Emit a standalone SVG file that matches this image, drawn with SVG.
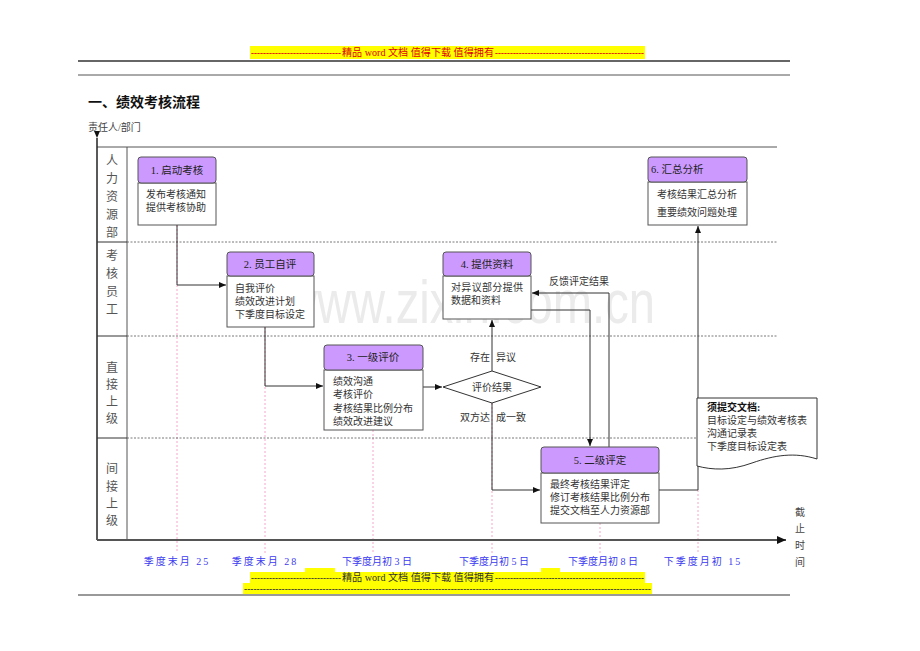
<svg xmlns="http://www.w3.org/2000/svg" width="920" height="651" viewBox="0 0 920 651">
<style>
text{font-family:"Liberation Serif","Noto Sans CJK SC",serif;}
.hd{fill:#cc99ff;stroke:#555;stroke-width:1;}
.bd{fill:#fff;stroke:#555;stroke-width:1;}
.ht{font-size:10.5px;fill:#222;text-anchor:middle;}
.bt{font-size:10px;fill:#333;}
.ln{font-size:12px;fill:#555;text-anchor:middle;}
.tm{font-size:10px;fill:#3b3bf0;text-anchor:middle;}
.con{fill:none;stroke:#333;stroke-width:1;}
.pk{stroke:#f4a6c8;stroke-width:1;stroke-dasharray:2,2;}
.dl{stroke:#555;stroke-width:0.8;stroke-dasharray:2,1.5;}
.wm{font-size:10px;}
</style>
<defs>
<marker id="ah" markerWidth="8" markerHeight="8" refX="7" refY="4" orient="auto" markerUnits="userSpaceOnUse"><path d="M0,1 L7,4 L0,7 Z" fill="#111"/></marker>
<marker id="ah2" markerWidth="10" markerHeight="10" refX="9" refY="5" orient="auto" markerUnits="userSpaceOnUse"><path d="M0,1 L9,5 L0,9 Z" fill="#111"/></marker>
</defs>
<rect width="920" height="651" fill="#fff"/>
<!-- header watermark -->
<g id="header">
<rect x="250" y="46" width="395" height="13" fill="#ffff00"/>
<text x="251" y="56" class="wm" fill="#d00" textLength="90" lengthAdjust="spacingAndGlyphs">------------------------------</text>
<text x="342" y="56" class="wm" fill="#d00" textLength="152" lengthAdjust="spacingAndGlyphs">精品 word 文档  值得下载  值得拥有</text>
<text x="495" y="56" class="wm" fill="#d00" textLength="149" lengthAdjust="spacingAndGlyphs">--------------------------------------------------</text>
<line x1="78" y1="61" x2="790" y2="61" stroke="#666" stroke-width="2"/>
<line x1="78" y1="75" x2="790" y2="75" stroke="#555" stroke-width="1"/>
</g>
<text x="88" y="107" font-size="14" fill="#111" font-weight="bold">一、绩效考核流程</text>
<text x="88" y="131" font-size="10" fill="#444">责任人/部门</text>
<!-- background watermark -->
<text x="283" y="323" font-size="62" fill="#ebebeb" textLength="372" lengthAdjust="spacingAndGlyphs" style="font-family:'Liberation Sans',sans-serif">www.zixin.com.cn</text>
<!-- pink time guides -->
<g id="guides">
<line class="pk" x1="177" y1="225" x2="177" y2="553"/>
<line class="pk" x1="265" y1="327" x2="265" y2="553"/>
<line class="pk" x1="373" y1="430" x2="373" y2="553"/>
<line class="pk" x1="492" y1="403" x2="492" y2="553"/>
<line class="pk" x1="600" y1="523" x2="600" y2="553"/>
<line class="pk" x1="698" y1="490" x2="698" y2="553"/>
</g>
<!-- swimlanes -->
<g id="lanes">
<line x1="97" y1="147" x2="777" y2="147" stroke="#555" stroke-width="1"/>
<line x1="97" y1="138" x2="97" y2="540" stroke="#222" stroke-width="1.5" marker-start="url(#ah)"/>
<line x1="127" y1="147" x2="127" y2="540" stroke="#555" stroke-width="1"/>
<line x1="97" y1="242" x2="127" y2="242" stroke="#333"/>
<line x1="97" y1="336" x2="127" y2="336" stroke="#333"/>
<line x1="97" y1="438" x2="127" y2="438" stroke="#333"/>
<line class="dl" x1="127" y1="242" x2="777" y2="242"/>
<line class="dl" x1="127" y1="336" x2="777" y2="336"/>
<line class="dl" x1="127" y1="438" x2="777" y2="438"/>
<text class="ln" x="112" y="165">人</text><text class="ln" x="112" y="183">力</text><text class="ln" x="112" y="201">资</text><text class="ln" x="112" y="219">源</text><text class="ln" x="112" y="237">部</text>
<text class="ln" x="112" y="260">考</text><text class="ln" x="112" y="278">核</text><text class="ln" x="112" y="296">员</text><text class="ln" x="112" y="314">工</text>
<text class="ln" x="112" y="372">直</text><text class="ln" x="112" y="389">接</text><text class="ln" x="112" y="406">上</text><text class="ln" x="112" y="423">级</text>
<text class="ln" x="112" y="473">间</text><text class="ln" x="112" y="491">接</text><text class="ln" x="112" y="508">上</text><text class="ln" x="112" y="525">级</text>
<line x1="97" y1="540" x2="786" y2="540" stroke="#555" stroke-width="2" marker-end="url(#ah2)"/>
</g>
<!-- connectors -->
<g id="connectors">
<polyline class="con" points="177,225 177,285 226,285" marker-end="url(#ah)"/>
<polyline class="con" points="265,327 265,386 323,386" marker-end="url(#ah)"/>
<line class="con" x1="423" y1="387" x2="442" y2="387" marker-end="url(#ah)"/>
<line class="con" x1="492" y1="371" x2="492" y2="320" marker-end="url(#ah)"/>
<polyline class="con" points="492,403 492,490 540,490" marker-end="url(#ah)"/>
<polyline class="con" points="531,310 590,310 590,446" marker-end="url(#ah)"/>
<polyline class="con" points="609,447 609,293 532,293" marker-end="url(#ah)"/>
<polyline class="con" points="659,490 698,490 698,226" marker-end="url(#ah)"/>
<text x="549" y="285" font-size="10" fill="#333">反馈评定结果</text>
<text x="470" y="361" font-size="10" fill="#333">存在</text>
<text x="496" y="361" font-size="10" fill="#333">异议</text>
<text x="460" y="421" font-size="10" fill="#333">双方达</text>
<text x="496" y="421" font-size="10" fill="#333">成一致</text>
</g>
<!-- nodes -->
<g id="n1">
<rect class="bd" x="138" y="183" width="78" height="42"/>
<rect class="hd" x="138" y="157" width="78" height="26" rx="3"/>
<text class="ht" x="177" y="174">1. 启动考核</text>
<text class="bt" x="146" y="198">发布考核通知</text>
<text class="bt" x="146" y="211">提供考核协助</text>
</g>
<g id="n2">
<rect class="bd" x="227" y="276" width="87" height="51"/>
<rect class="hd" x="227" y="252" width="87" height="24" rx="3"/>
<text class="ht" x="270" y="268">2. 员工自评</text>
<text class="bt" x="235" y="292">自我评价</text>
<text class="bt" x="235" y="305">绩效改进计划</text>
<text class="bt" x="235" y="318">下季度目标设定</text>
</g>
<g id="n3">
<rect class="bd" x="324" y="370" width="99" height="60"/>
<rect class="hd" x="324" y="345" width="99" height="25" rx="3"/>
<text class="ht" x="373" y="361">3. 一级评价</text>
<text class="bt" x="333" y="385">绩效沟通</text>
<text class="bt" x="333" y="398">考核评价</text>
<text class="bt" x="333" y="412">考核结果比例分布</text>
<text class="bt" x="333" y="425">绩效改进建议</text>
</g>
<g id="n4">
<rect class="bd" x="443" y="276" width="88" height="43"/>
<rect class="hd" x="443" y="252" width="88" height="24" rx="3"/>
<text class="ht" x="487" y="268">4. 提供资料</text>
<text class="bt" x="451" y="291" textLength="72">对异议部分提供</text>
<text class="bt" x="451" y="304">数据和资料</text>
</g>
<g id="decision">
<polygon points="443,387 492,371 541,387 492,403" fill="#fff" stroke="#333" stroke-width="1"/>
<text x="492" y="391" font-size="10" fill="#333" text-anchor="middle">评价结果</text>
</g>
<g id="n5">
<rect class="bd" x="541" y="473" width="118" height="50"/>
<rect class="hd" x="541" y="447" width="118" height="26" rx="3"/>
<text class="ht" x="600" y="464">5. 二级评定</text>
<text class="bt" x="550" y="488">最终考核结果评定</text>
<text class="bt" x="550" y="501">修订考核结果比例分布</text>
<text class="bt" x="550" y="514">提交文档至人力资源部</text>
</g>
<g id="n6">
<rect class="bd" x="648" y="182" width="99" height="43"/>
<rect class="hd" x="648" y="157" width="99" height="25" rx="3"/>
<text class="ht" x="651" y="173" style="text-anchor:start">6. 汇总分析</text>
<text class="bt" x="657" y="198">考核结果汇总分析</text>
<text class="bt" x="657" y="216">重要绩效问题处理</text>
</g>
<g id="doc">
<path d="M697,398 H817 V459 C795,452 775,455 752,463 C730,471 712,470 697,466 Z" fill="#fff" stroke="#333" stroke-width="1"/>
<text x="707" y="411" font-size="10" fill="#111" font-weight="bold">须提交文档:</text>
<text x="707" y="424" font-size="10" fill="#333">目标设定与绩效考核表</text>
<text x="707" y="437" font-size="10" fill="#333">沟通记录表</text>
<text x="707" y="450" font-size="10" fill="#333">下季度目标设定表</text>
</g>
<!-- time labels -->
<g id="timeline">
<text class="tm" x="177" y="565" letter-spacing="2">季度末月 25</text>
<text class="tm" x="265" y="565" letter-spacing="2">季度末月 28</text>
<text class="tm" x="377" y="565">下季度月初 3 日</text>
<text class="tm" x="494" y="565">下季度月初 5 日</text>
<text class="tm" x="603" y="565">下季度月初 8 日</text>
<text class="tm" x="703" y="565" letter-spacing="2">下季度月初 15</text>
<text x="800" y="516" font-size="10" fill="#444" text-anchor="middle">截</text>
<text x="800" y="532" font-size="10" fill="#444" text-anchor="middle">止</text>
<text x="800" y="549" font-size="10" fill="#444" text-anchor="middle">时</text>
<text x="800" y="566" font-size="10" fill="#444" text-anchor="middle">间</text>
</g>
<!-- footer watermark -->
<g id="footer">
<rect x="305" y="568" width="30" height="6" fill="#ffff00"/>
<rect x="541" y="568" width="19" height="6" fill="#ffff00"/>
<rect x="250" y="572" width="395" height="11" fill="#ffff00"/>
<rect x="243" y="583" width="409" height="11" fill="#ffff00"/>
<text x="251" y="581" class="wm" fill="#333" textLength="90" lengthAdjust="spacingAndGlyphs">------------------------------</text>
<text x="342" y="581" class="wm" fill="#333" textLength="152" lengthAdjust="spacingAndGlyphs">精品 word 文档  值得下载  值得拥有</text>
<text x="495" y="581" class="wm" fill="#333" textLength="149" lengthAdjust="spacingAndGlyphs">--------------------------------------------------</text>
<text x="244" y="592" class="wm" fill="#333" textLength="407" lengthAdjust="spacingAndGlyphs">----------------------------------------------------------------------------------------------------------------------------------</text>
<line x1="78" y1="595" x2="790" y2="595" stroke="#777" stroke-width="1.5"/>
</g>
</svg>
